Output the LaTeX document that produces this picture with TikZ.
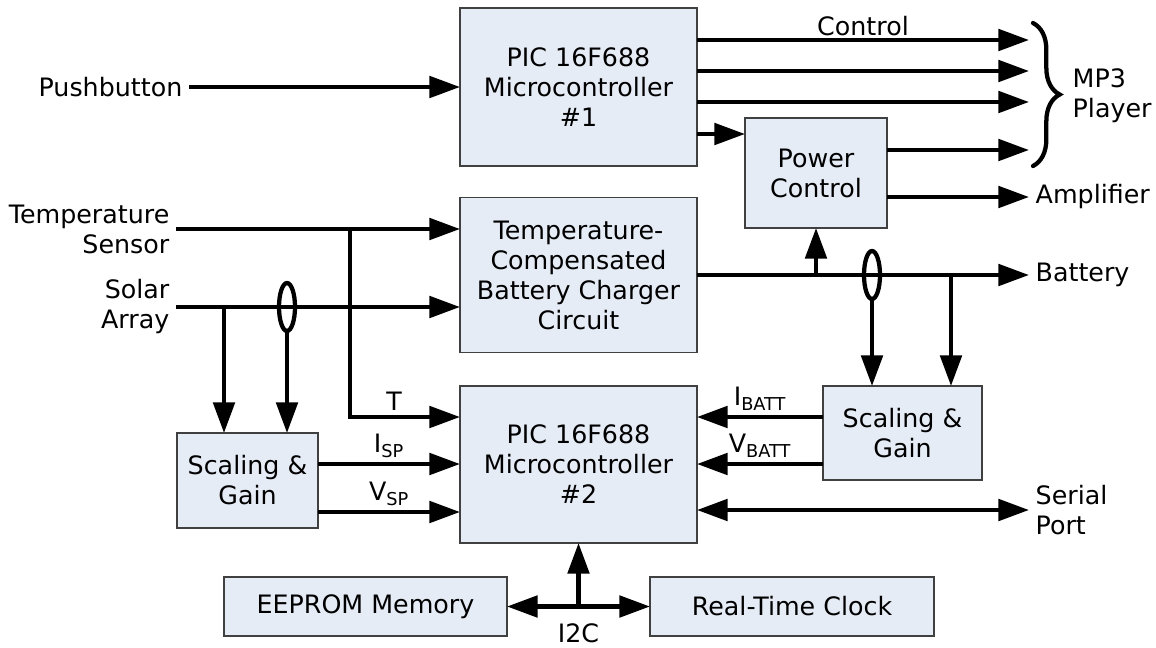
\documentclass[tikz,border=0pt]{standalone}
\usepackage{fontspec}
\setmainfont{DejaVu Sans}
\usepackage{xcolor}
\definecolor{blocFond}{HTML}{E6ECF6}
\definecolor{blocTrait}{HTML}{404040}
\usepackage{tikz}
\usetikzlibrary{arrows.meta, calc, decorations.pathreplacing}
\newcommand{\px}{0.75pt}
\tikzset{
  %% ── Boxes ────────────────────────────────────────────────────────────
  bloc/.style       = {draw=blocTrait, line width=1pt, fill=blocFond,
                       align=center, inner sep=0pt, outer sep=0pt},
  taille/.style 2 args = {minimum width=#1*\px, minimum height=#2*\px},
  %%
  %% ── Arrows ───────────────────────────────────────────────────────────
  trait/.style      = {draw=black, line width=3.2pt},
  fleche/.style     = {trait, -{Triangle[length=23pt, width=16pt]}},
  flecheDouble/.style = {trait, {Triangle[length=23pt, width=16pt]}-{Triangle[length=23pt, width=16pt]}},
  %%
  %% ── Text ─────────────────────────────────────────────────────────────
  texte/.style      = {inner sep=0pt, outer sep=5pt},
  etiquette/.style  = {inner sep=3pt},
}

\begin{document}
\begin{tikzpicture}[x=0.75pt, y=-0.75pt, font=\fontsize{19}{22.5}\selectfont]
\useasboundingbox (0,0) rectangle (1156,647);

%% Les blocs.
\node[bloc, taille={237}{158}] (microUn)   at (578.5,87)    {PIC 16F688\\Microcontroller\\\#1};
\node[bloc, taille={237}{155}] (chargeur)  at (578.5,275)   {Temperature-\\Compensated\\Battery Charger\\Circuit};
\node[bloc, taille={237}{157}] (microDeux) at (578.5,464.5) {PIC 16F688\\Microcontroller\\\#2};
\node[bloc, taille={142}{110}] (alim)      at (816,173)     {Power\\Control};
\node[bloc, taille={141}{95}]  (gainSol)   at (247.5,480.5) {Scaling \&\\Gain};
\node[bloc, taille={159}{94}]  (gainBatt)  at (902.5,433)   {Scaling \&\\Gain};
\node[bloc, taille={283}{59}]  (eeprom)    at (365.5,606.5) {EEPROM Memory};
\node[bloc, taille={284}{59}]  (horloge)   at (792,606.5)   {Real-Time Clock};

%% Les entrees a gauche.
\node[texte, anchor=east] (bouton) at (189,87) {Pushbutton};
\node[texte, anchor=east, align=right] (capteurTemp) at (176,229) {Temperature\\Sensor};
\node[texte, anchor=east, align=right] (capteurSol)  at (176,307) {Solar\\Array};
\draw[fleche] (bouton.east) -- (microUn.west |- bouton.east);
\draw[fleche] (capteurTemp.east) -- (chargeur.west |- capteurTemp.east);
\draw[fleche] (capteurSol.east) -- (chargeur.west |- capteurSol.east);

%% Derivation de la temperature vers le second PIC.
\coordinate (noeudT) at (350,229);
\draw[fleche] (noeudT) |- (microDeux.west |- 0,417) node[etiquette, above, pos=0.7] (lblT) {T};

%% Mesure du panneau solaire.
\coordinate (noeudSol) at (224,307);
\coordinate (sondeSol) at (287,307);
\draw[fleche] (noeudSol) -- (noeudSol |- gainSol.north);
\draw[trait] (sondeSol) ellipse (6pt and 18pt);
\draw[fleche] ([yshift=-18pt]sondeSol) -- (sondeSol |- gainSol.north);
\draw[fleche] (gainSol.east |- 0,464) -- (microDeux.west |- 0,464)
     node[etiquette, above, midway] (lblISP) {I\textsubscript{SP}};
\draw[fleche] (gainSol.east |- 0,512) -- (microDeux.west |- 0,512)
     node[etiquette, above, midway] (lblVSP) {V\textsubscript{SP}};

%% Sorties du premier PIC vers le lecteur.
\foreach \y [count=\i] in {40,71,102} {
  \coordinate (mp\i) at (1029,\y);
  \draw[fleche] (microUn.east |- mp\i) -- (mp\i);
}
\node[etiquette, above] (lblCtl) at ($(microUn.east |- mp1)!0.5!(mp1)$) {Control};
\coordinate (mp4) at (1029,150);
\draw[fleche] (microUn.east |- 0,134) -- (alim.west |- 0,134);
\draw[fleche] (alim.east |- mp4) -- (mp4);
\coordinate (accHaut) at (1033,23);
\coordinate (accBas)  at (1033,166);
\draw[trait, line cap=round, decorate, decoration={brace, amplitude=20pt}] (accHaut) -- (accBas);
\node[texte, anchor=west, align=left] (lecteur) at (1066,96) {MP3\\Player};
\node[texte, anchor=west] (ampli) at (1029,197) {Amplifier};
\draw[fleche] (alim.east |- ampli.west) -- (ampli.west);

%% La batterie et sa mesure.
\node[texte, anchor=west] (batterie) at (1029,275) {Battery};
\draw[fleche] (chargeur.east) -- (batterie.west);
\draw[fleche] (alim.south |- chargeur.east) -- (alim.south);
\coordinate (sondeBatt) at (872,275);
\coordinate (noeudBatt) at (951,275);
\draw[trait] (sondeBatt) ellipse (6pt and 18pt);
\draw[fleche] ([yshift=-18pt]sondeBatt) -- (sondeBatt |- gainBatt.north);
\draw[fleche] (noeudBatt) -- (noeudBatt |- gainBatt.north);
\draw[fleche] (gainBatt.west |- 0,417) -- (microDeux.east |- 0,417)
     node[etiquette, above, midway] (lblIBatt) {I\textsubscript{BATT}};
\draw[fleche] (gainBatt.west |- 0,464) -- (microDeux.east |- 0,464)
     node[etiquette, above, midway] (lblVBatt) {V\textsubscript{BATT}};

%% Port serie.
\node[texte, anchor=west, align=left] (portSerie) at (1029,510) {Serial\\Port};
\draw[flecheDouble] (microDeux.east |- portSerie.west) -- (portSerie.west);

%% Bus I2C.
\coordinate (busI2C) at (microDeux.south |- eeprom.east);
\draw[fleche] (busI2C) -- (microDeux.south);
\draw[fleche] (busI2C) -- (eeprom.east);
\draw[fleche] (busI2C) -- (horloge.west);
\node (lblI2C) at (busI2C |- 0,633) {I2C};

\end{tikzpicture}
\end{document}
